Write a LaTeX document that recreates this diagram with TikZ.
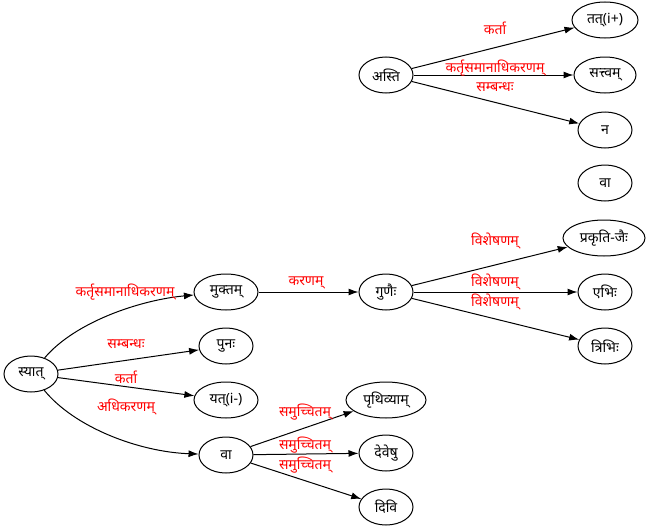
\documentclass[tikz,border=0pt]{standalone}
\usepackage{fontspec}
\newfontfamily\deva[Script=Devanagari]{Noto Sans}
\usetikzlibrary{shapes.geometric,arrows.meta}
\tikzset{
  word/.style={ellipse, draw, line width=1pt, inner sep=0pt, minimum height=36pt, minimum width=54pt, font=\deva\fontsize{14}{16}\selectfont},
  rel/.style={-{Latex[length=10pt,width=7pt]}, line width=1pt},
  lab/.style={text=red, font=\deva\fontsize{14}{16}\selectfont, inner sep=0pt}
}
\begin{document}
\begin{tikzpicture}[x=1pt,y=-1pt]
\useasboundingbox (0,0) rectangle (651,530);
% nodes
\node[word] (asti) at (386,75) {अस्ति};
\node[word, minimum width=66pt] (tat) at (605,20) {तत्(i+)};
\node[word, minimum width=62pt] (sattva) at (605,75) {सत्त्वम्};
\node[word] (na) at (605,130) {न};
\node[word] (va2) at (605,183) {वा};
\node[word] (syat) at (31,374) {स्यात्};
\node[word, minimum width=64pt] (mukta) at (226,292) {मुक्तम्};
\node[word] (puna) at (226,346) {पुनः};
\node[word, minimum width=64pt] (yat) at (226,400) {यत्(i-)};
\node[word] (va) at (226,455) {वा};
\node[word] (guna) at (386,292) {गुणैः};
\node[word, minimum width=82pt] (prakrti) at (604,238) {प्रकृति-जैः};
\node[word] (ebhi) at (605,292) {एभिः};
\node[word] (tribhi) at (605,346) {त्रिभिः};
\node[word, minimum width=80pt] (prthivi) at (386,400) {पृथिव्याम्};
\node[word] (deva) at (386,453) {देवेषु};
\node[word] (divi) at (386,507) {दिवि};
% edges
\draw[rel] (asti) -- (tat);
\draw[rel] (asti) -- (sattva);
\draw[rel] (asti) -- (na);
\draw[rel] (syat) .. controls (75,322) and (140,300) .. (mukta);
\draw[rel] (syat) -- (puna);
\draw[rel] (syat) -- (yat);
\draw[rel] (syat) .. controls (75,428) and (140,452) .. (va);
\draw[rel] (mukta) -- (guna);
\draw[rel] (guna) -- (prakrti);
\draw[rel] (guna) -- (ebhi);
\draw[rel] (guna) -- (tribhi);
\draw[rel] (va) -- (prthivi);
\draw[rel] (va) -- (deva);
\draw[rel] (va) -- (divi);
% labels
\node[lab] (l1) at (495,28) {कर्ता};
\node[lab] (l2) at (495,68) {कर्तृसमानाधिकरणम्};
\node[lab] (l3) at (495,87) {सम्बन्धः};
\node[lab] (l4) at (125,292) {कर्तृसमानाधिकरणम्};
\node[lab] (l5) at (126,344) {सम्बन्धः};
\node[lab] (l6) at (126,377) {कर्ता};
\node[lab] (l7) at (126,407) {अधिकरणम्};
\node[lab] (l8) at (306,283) {करणम्};
\node[lab] (l9) at (495,241) {विशेषणम्};
\node[lab] (l10) at (495,282) {विशेषणम्};
\node[lab] (l11) at (495,302) {विशेषणम्};
\node[lab] (l12) at (305,412) {समुच्चितम्};
\node[lab] (l13) at (305,445) {समुच्चितम्};
\node[lab] (l14) at (305,465) {समुच्चितम्};
\end{tikzpicture}
\end{document}
